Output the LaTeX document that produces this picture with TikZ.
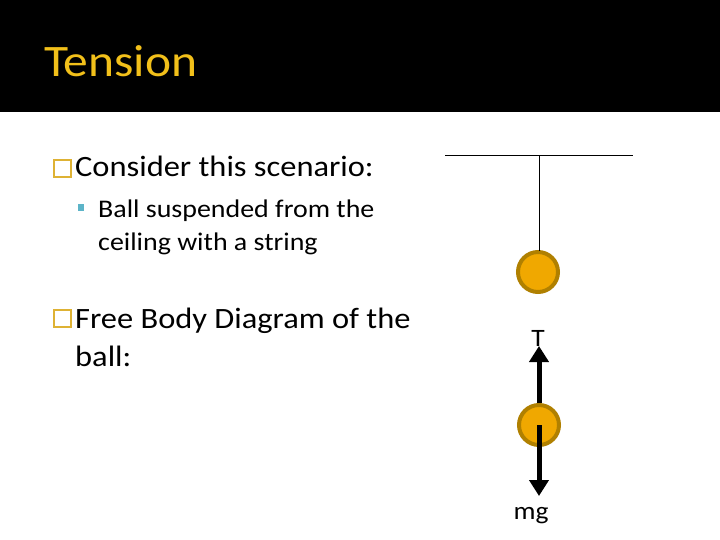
\documentclass[tikz,border=0pt]{standalone}
\usepackage{fontspec}
\setmainfont{Carlito}[FakeStretch=1.1]
\usetikzlibrary{arrows.meta}
\definecolor{titlegold}{RGB}{242,192,26}
\definecolor{boxgold}{RGB}{222,178,52}
\definecolor{subteal}{RGB}{92,180,200}
\definecolor{ballfill}{RGB}{240,168,0}
\definecolor{balledge}{RGB}{176,128,0}
\tikzset{
  maintext/.style={anchor=base west, inner sep=0pt, font=\fontsize{29.5}{35}\selectfont},
  subtext/.style={anchor=base west, inner sep=0pt, font=\fontsize{25.4}{33}\selectfont},
  marker/.style={draw=boxgold, line width=2pt},
  ball/.style={circle, fill=ballfill, draw=balledge, line width=4pt, minimum size=40pt, inner sep=0pt},
  force/.style={line width=5pt, -{Triangle[length=16pt,width=19pt]}},
  lbl/.style={inner sep=0pt, font=\fontsize{25}{28}\selectfont}
}
\begin{document}
\begin{tikzpicture}[x=1pt,y=-1pt]
\useasboundingbox (0,0) rectangle (720,540);
\fill[white] (0,0) rectangle (720,540);
\fill[black] (0,0) rectangle (720,112);
\node[anchor=base west, inner sep=0pt, text=titlegold, font=\fontsize{45}{50}\selectfont] (title) at (44,77) {Tension};
% bullets
\draw[marker] (54,160) rectangle (71,177);
\node[maintext] (b1) at (75,177) {Consider this scenario:};
\fill[subteal] (78,204) rectangle (84,211);
\node[subtext] (s1) at (98,218) {Ball suspended from the};
\node[subtext] (s2) at (98,251) {ceiling with a string};
\draw[marker] (54,310) rectangle (71,327);
\node[maintext] (b2) at (75,328) {Free Body Diagram of the};
\node[maintext] (b3) at (75,366) {ball:};
% scenario
\coordinate (cl) at (445,156);
\coordinate (cr) at (633,156);
\coordinate (ca) at (539,156);
\draw[line width=1pt] (cl) -- (cr);
\node[ball] (ball1) at (538,272) {};
\draw[line width=1pt] (ca) -- (539,251);
% FBD
\node[ball] (ball2) at (539,425) {};
\coordinate (tT) at (539,346);
\coordinate (tW) at (539,496);
\draw[force] (ball2.north) -- (tT);
\draw[force] (ball2.center) -- (tW);
\node[lbl] (T) at (538,338) {T};
\node[lbl] (mg) at (531,516) {mg};
\end{tikzpicture}
\end{document}
